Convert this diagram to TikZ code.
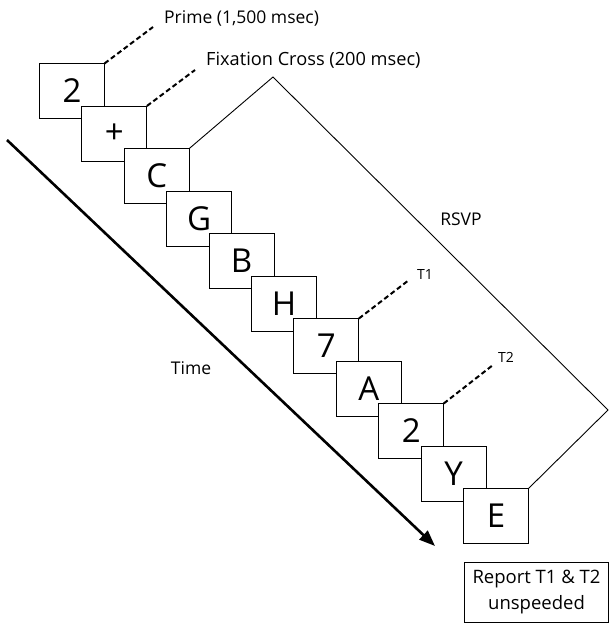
\documentclass[tikz,border=0pt]{standalone}
\usepackage{fontspec}
\setmainfont{Open Sans}
\usetikzlibrary{arrows.meta}
\begin{document}
\begin{tikzpicture}[x=1pt,y=-1pt,
  frame/.style={draw,fill=white,line width=1pt,minimum width=65pt,minimum height=55pt,inner sep=0pt,outer sep=0pt,font=\fontsize{33}{36}\selectfont},
  lbl/.style={font=\fontsize{17.5}{20}\selectfont,inner sep=0pt},
  tlbl/.style={font=\fontsize{14}{16}\selectfont,inner sep=0pt},
  lead/.style={line width=2pt,dash pattern=on 5pt off 3pt},
  brk/.style={line width=0.9pt}]
\useasboundingbox (0,0) rectangle (609,624);
\foreach \t [count=\i from 0] in {2,+,C,G,B,H,7,A,2,Y,E} {
  \node[frame] (b\i) at ({72+42.4*\i},{91+42.5*\i}) {\t};
}
\coordinate (p1) at (153,27);
\coordinate (p2) at (195,70);
\draw[lead] (b0.north east) -- (p1);
\node[lbl,anchor=west] (prime) at (164,18) {Prime (1,500 msec)};
\draw[lead] (b1.north east) -- (p2);
\node[lbl,anchor=west,font=\fontsize{18.2}{20}\selectfont] (fix) at (206,60) {Fixation Cross (200 msec)};
\coordinate (apex) at (273,77);
\coordinate (rp) at (608,410);
\draw[brk] (b2.north east) -- (apex) -- (rp) -- (b10.north east);
\node[lbl] (rsvp) at (461,219) {RSVP};
\coordinate (t1e) at (409,280);
\draw[lead] (b6.north east) -- (t1e);
\node[tlbl,anchor=west] (t1) at (417,274) {T1};
\coordinate (t2e) at (493,365);
\draw[lead] (b8.north east) -- (t2e);
\node[tlbl,anchor=west] (t2) at (498,357) {T2};
\coordinate (ts) at (7,140);
\coordinate (te) at (435,546);
\draw[line width=2.6pt,-{Triangle[length=16pt,width=12pt]}] (ts) -- (te);
\node[lbl] (time) at (191,368) {Time};
\node[draw,line width=1pt,minimum width=144pt,minimum height=60pt,align=center,font=\fontsize{18.5}{26}\selectfont,inner sep=0pt] (rep) at (536.5,592) {Report T1 \& T2\\unspeeded};
\end{tikzpicture}
\end{document}
